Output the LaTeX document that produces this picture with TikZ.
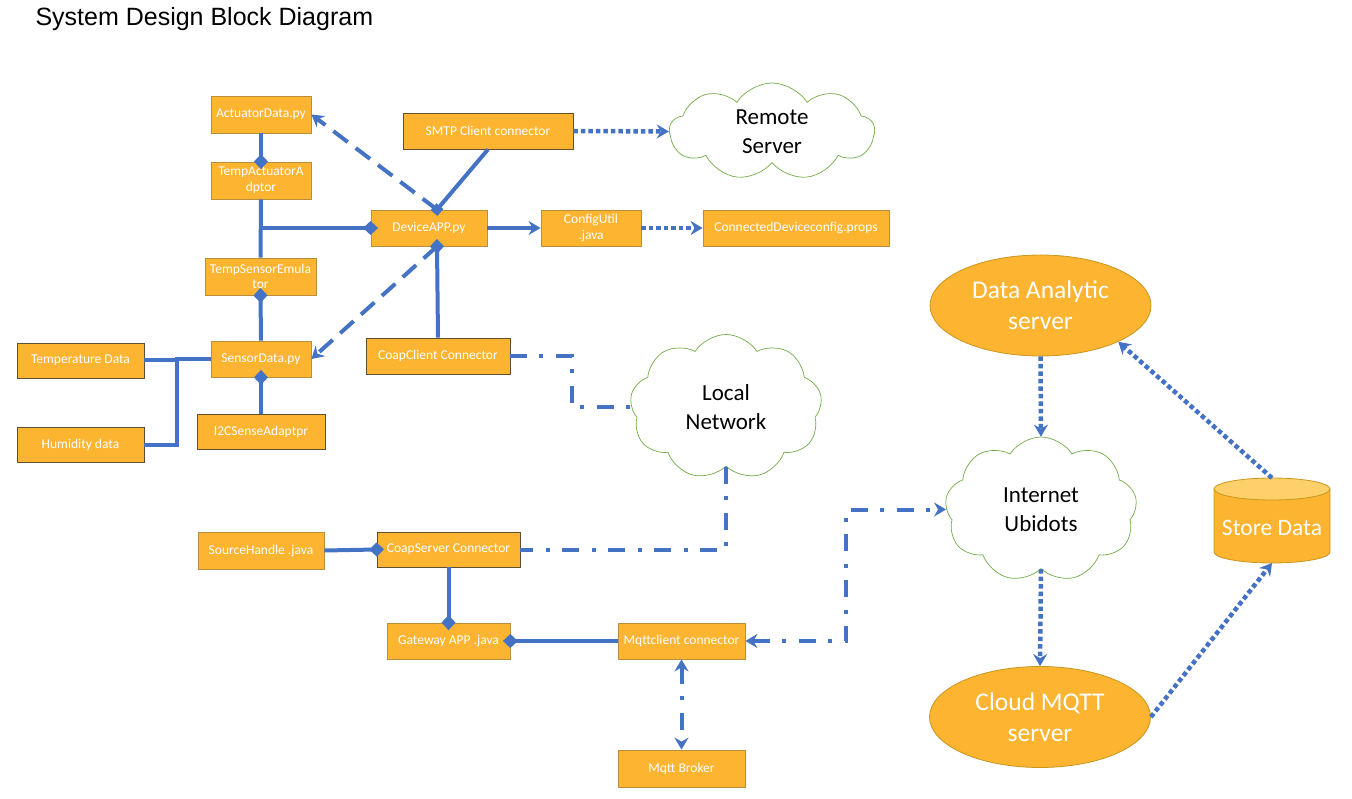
\documentclass[tikz,border=0pt]{standalone}
\usepackage{fontspec}
\setmainfont{Carlito}
\newfontfamily\titlefont{Liberation Sans}
\usetikzlibrary{arrows.meta,shapes.geometric,shapes.symbols,calc}
\definecolor{orng}{HTML}{FCB431}
\definecolor{boxline}{HTML}{B8903C}
\definecolor{darkline}{HTML}{5E5030}
\definecolor{lblue}{HTML}{4472C4}
\definecolor{cgreen}{HTML}{70AD47}
\definecolor{ellline}{HTML}{C8961E}
\definecolor{cyltop}{HTML}{FDD069}
\begin{document}
\begin{tikzpicture}[x=1pt,y=-1pt,
  box/.style={rectangle, fill=orng, draw=boxline, line width=0.8pt, text=white,
    font=\fontsize{13.5}{15.5}\selectfont, inner sep=1pt, align=center},
  dbox/.style={box, draw=darkline},
  cloudnode/.style={cloud, cloud puffs=9, cloud puff arc=115, cloud ignores aspect,
    draw=cgreen, line width=0.7pt, fill=white, font=\fontsize{23}{29}\selectfont,
    align=center, inner sep=0pt},
  ell/.style={ellipse, fill=orng, draw=ellline, line width=0.8pt, text=white,
    font=\fontsize{25.5}{31}\selectfont, align=center, minimum width=221,
    minimum height=101, inner sep=0pt},
  conn/.style={draw=lblue, line width=4pt},
  dotline/.style={conn, line width=4.5pt, dash pattern=on 4.5pt off 3pt},
  dashline/.style={conn, dash pattern=on 18pt off 10pt},
  dashdot/.style={conn, dash pattern=on 17pt off 12pt on 4pt off 13pt},
  tipend/.style={-{Stealth[length=12pt,width=14pt,inset=4pt]}},
  tipboth/.style={{Stealth[length=12pt,width=14pt,inset=4pt]}-{Stealth[length=12pt,width=14pt,inset=4pt]}},
  diamondend/.style={-{Diamond[length=15pt,width=14pt]}, shorten >=-7.5pt},
  diamondstart/.style={{Diamond[length=15pt,width=14pt]}-, shorten <=-7.5pt},
  squareend/.style={-{Square[length=9pt,width=9pt]}, shorten >=-4.5pt},
]
\useasboundingbox (0,0) rectangle (1352,799);

\node[anchor=west, font=\titlefont\fontsize{25}{28}\selectfont] (title) at (32,19) {System Design Block Diagram};

% boxes
\node[box, minimum width=100, minimum height=37] (act) at (261,114.5) {ActuatorData.py};
\node[box, minimum width=100, minimum height=37] (tact) at (261,180.5) {TempActuatorA\\dptor};
\node[box, minimum width=111, minimum height=37] (tse) at (260.5,276.5) {TempSensorEmula\\tor};
\node[box, minimum width=100, minimum height=36] (sens) at (261,359) {SensorData.py};
\node[dbox, minimum width=128, minimum height=35] (i2c) at (261,431.5) {I2CSenseAdaptpr};
\node[dbox, minimum width=127, minimum height=35] (temp) at (80.5,360.5) {Temperature Data};
\node[dbox, minimum width=127, minimum height=35] (hum) at (80.5,444.5) {Humidity data};
\node[dbox, minimum width=170, minimum height=36] (smtp) at (488,131) {SMTP Client connector};
\node[box, minimum width=116, minimum height=36] (dev) at (429,228) {DeviceAPP.py};
\node[box, minimum width=100, minimum height=36] (cfg) at (591,228) {ConfigUtil\\.java};
\node[box, minimum width=186, minimum height=36] (cdc) at (796,228) {ConnectedDeviceconfig.props};
\node[dbox, minimum width=144, minimum height=36] (cc) at (438,356) {CoapClient Connector};
\node[box, minimum width=126, minimum height=37] (sh) at (261,550.5) {SourceHandle .java};
\node[dbox, minimum width=143, minimum height=35] (cs) at (448.5,549.5) {CoapServer Connector};
\node[box, minimum width=123, minimum height=36] (gw) at (448.5,641) {Gateway APP .java};
\node[box, minimum width=127, minimum height=36] (mq) at (681.5,641) {Mqttclient connector};
\node[box, minimum width=127, minimum height=37] (mb) at (681.5,768.5) {Mqtt Broker};

% clouds
\node[cloudnode, minimum width=205, minimum height=97] (rs) at (772,131.5) {Remote\\Server};
\node[cloudnode, minimum width=192, minimum height=145] (ln) at (726,407) {Local\\Network};
\node[cloudnode, minimum width=192, minimum height=145] (iu) at (1041,509.5) {Internet\\Ubidots};

% ellipses
\node[ell] (da) at (1040.5,305.5) {Data Analytic\\server};
\node[ell] (cm) at (1040,717) {Cloud MQTT\\server};

% cylinder
\fill[orng] (1214,489) -- (1214,552) arc[start angle=180, end angle=0, x radius=58, y radius=11] -- (1330,489) -- cycle;
\draw[ellline, line width=0.8pt] (1214,489) -- (1214,552) arc[start angle=180, end angle=0, x radius=58, y radius=11] -- (1330,489);
\filldraw[fill=cyltop, draw=ellline, line width=0.8pt] (1272,489) ellipse[x radius=58, y radius=11];
\node[font=\fontsize{23.5}{26}\selectfont, text=white] (sd) at (1272,528) {Store Data};
\coordinate (sdtop) at (1272,478);
\coordinate (sdbot) at (1272,563);

% connectors
\coordinate (devt) at ([xshift=8]dev.north);
\coordinate (devb) at ([xshift=8]dev.south);
\draw[conn, diamondend] (act.south) -- (tact.north);
\draw[conn] (tact.south) -- (tse.north);
\draw[conn, diamondend] (tact.south |- dev.west) -- (dev.west);
\draw[conn, diamondstart] (tse.south) -- (sens.north);
\draw[conn, diamondstart] (sens.south) -- (i2c.north);
\draw[conn] (temp.east) -- ++(33,0);
\draw[conn] (sens.west) -- ++(-34,0) |- (hum.east);
\draw[conn, squareend] (smtp.south) -- (devt);
\draw[dashline, tipend] (devt) -- (act.east);
\draw[dashline, tipend] (devb) -- (sens.east);
\draw[conn, diamondend] (cc.north) -- (devb);
\draw[conn, tipend] (dev.east) -- (cfg.west);
\draw[dotline, tipend] (cfg.east) -- (cdc.west);
\draw[dotline, tipend] (smtp.east) -- (rs.west);
\draw[dashdot] (cc.east) -- ++(62,0) |- (ln.west);
\draw[dashdot] (ln.south) |- (cs.east);
\draw[conn, diamondend] (sh.east) -- (cs.west);
\draw[conn, diamondend] (cs.south) -- (gw.north);
\draw[conn, diamondend] (mq.west) -- (gw.east);
\draw[dashdot, tipboth] (mq.east) -- ++(101,0) |- (iu.west);
\draw[dashdot, tipboth] (mq.south) -- (mb.north);
\draw[dotline, tipend] (da.south) -- (iu.north);
\draw[dotline, tipend] (iu.south) -- (cm.north);
\draw[dotline, tipend] (cm.east) -- (sdbot);
\draw[dotline, tipend] (sdtop) -- (da.-25);
\end{tikzpicture}
\end{document}
